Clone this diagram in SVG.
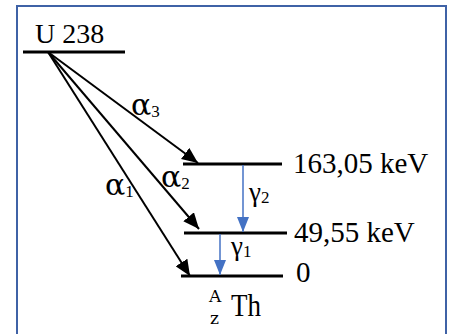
<svg xmlns="http://www.w3.org/2000/svg" width="452" height="334" viewBox="0 0 452 334">
<defs>
<style>
.t{font-family:'Liberation Serif','Times New Roman',serif;fill:#000}
.d{font-family:'DejaVu Serif',serif;fill:#000}
.lvl{stroke:#000;stroke-width:3}
.a{stroke:#000;stroke-width:2;fill:none}
.g{stroke:#4472C4;stroke-width:1.5;fill:none}
</style>
<marker id="ah" markerUnits="userSpaceOnUse" markerWidth="18" markerHeight="14" refX="16" refY="7" orient="auto">
<path d="M0,0 L16,7 L0,14 Z" fill="#000"/>
</marker>
<marker id="gh" markerUnits="userSpaceOnUse" markerWidth="16" markerHeight="12" refX="15" refY="6" orient="auto">
<path d="M0,0 L15,6 L0,12 Z" fill="#4472C4"/>
</marker>
</defs>
<rect x="17" y="6" width="429" height="345" fill="#fff" stroke="#3F62A6" stroke-width="2"/>
<g id="u238">
<line class="lvl" x1="23" y1="52" x2="125" y2="52"/>
<text class="t" x="35" y="43" font-size="28">U 238</text>
</g>
<g id="level163">
<line class="lvl" x1="183" y1="164" x2="282" y2="164"/>
<text class="t" x="293" y="173" font-size="29">163,05 keV</text>
</g>
<g id="level49">
<line class="lvl" x1="184" y1="233" x2="287" y2="233"/>
<text class="t" x="294" y="242" font-size="29">49,55 keV</text>
</g>
<g id="level0">
<line class="lvl" x1="181" y1="276" x2="283" y2="276"/>
<text class="t" x="296" y="282" font-size="29">0</text>
</g>
<g id="th">
<text class="d" font-size="17"><tspan x="209" y="302">A</tspan><tspan x="210" y="324">z</tspan></text>
<text class="t" x="231" y="316" font-size="31" textLength="30" lengthAdjust="spacingAndGlyphs">Th</text>
</g>
<g id="connectors">
<line class="a" x1="48" y1="52" x2="198" y2="163" marker-end="url(#ah)"/>
<line class="a" x1="48" y1="52" x2="199" y2="229" marker-end="url(#ah)"/>
<line class="a" x1="48" y1="52" x2="190" y2="276" marker-end="url(#ah)"/>
<line class="g" x1="243" y1="165" x2="243" y2="232" marker-end="url(#gh)"/>
<line class="g" x1="220" y1="234" x2="220" y2="275" marker-end="url(#gh)"/>
</g>
<g id="labels">
<text class="d" x="131" y="115" font-size="30">α<tspan class="t" font-size="17" dy="2">3</tspan></text>
<text class="d" x="161" y="187" font-size="30">α<tspan class="t" font-size="17" dy="2">2</tspan></text>
<text class="d" x="105" y="195" font-size="30">α<tspan class="t" font-size="17" dy="2">1</tspan></text>
<text class="t" x="249" y="201" font-size="27">γ<tspan font-size="17" dy="2">2</tspan></text>
<text class="t" x="231" y="255" font-size="27">γ<tspan font-size="17" dy="2">1</tspan></text>
</g>
</svg>
